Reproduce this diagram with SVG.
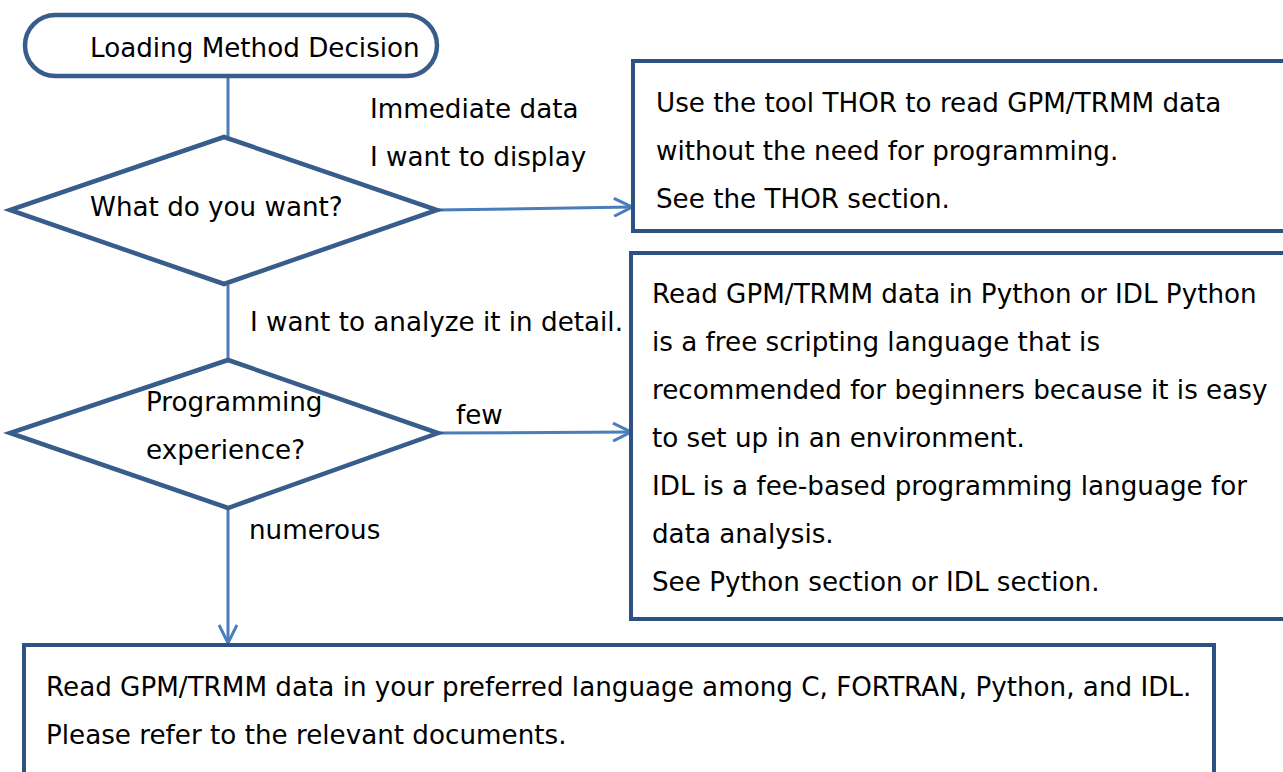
<svg xmlns="http://www.w3.org/2000/svg" width="1283" height="772" viewBox="0 0 1283 772">
<style>
.shape{fill:#fff;stroke:#385D8A;stroke-width:4.5}
.box{fill:#fff;stroke:#2C5182;stroke-width:4}
.conn{fill:none;stroke:#4A7EBB;stroke-width:3}
text{font-family:"DejaVu Sans","Liberation Sans",sans-serif;font-size:26.2px;fill:#000}
</style>
<defs>
<marker id="arr" viewBox="0 0 20 20" refX="19" refY="10" markerWidth="20" markerHeight="20" markerUnits="userSpaceOnUse" orient="auto">
<path d="M1,1 L19,10 L1,19" fill="none" stroke="#4A7EBB" stroke-width="3"/>
</marker>
</defs>
<g id="connectors">
<line class="conn" x1="228" y1="77" x2="228" y2="137"/>
<line class="conn" x1="228" y1="285" x2="228" y2="359"/>
<line class="conn" x1="228" y1="508" x2="228" y2="643" marker-end="url(#arr)"/>
<line class="conn" x1="437" y1="210" x2="632" y2="207" marker-end="url(#arr)"/>
<line class="conn" x1="438" y1="433" x2="631" y2="432" marker-end="url(#arr)"/>
<text x="370" y="118">Immediate data</text>
<text x="370" y="166">I want to display</text>
<text x="250" y="331">I want to analyze it in detail.</text>
<text x="456" y="424">few</text>
<text x="249" y="539">numerous</text>
</g>
<g id="start">
<rect class="shape" x="25" y="15" width="412" height="61" rx="30.5" ry="30.5"/>
<text x="90" y="57">Loading Method Decision</text>
</g>
<g id="decision1">
<polygon class="shape" points="224,137 437,210 224,284 10,210"/>
<text x="90" y="216">What do you want?</text>
</g>
<g id="decision2">
<polygon class="shape" points="228,360 438,433 228,508 10,433"/>
<text x="146" y="411">Programming</text>
<text x="146" y="459">experience?</text>
</g>
<g id="thor">
<rect class="box" x="633" y="61" width="660" height="170"/>
<text x="656" y="112">Use the tool THOR to read GPM/TRMM data</text>
<text x="656" y="160">without the need for programming.</text>
<text x="656" y="208">See the THOR section.</text>
</g>
<g id="python-idl">
<rect class="box" x="631" y="253" width="660" height="366"/>
<text x="652" y="303">Read GPM/TRMM data in Python or IDL Python</text>
<text x="652" y="351">is a free scripting language that is</text>
<text x="652" y="399">recommended for beginners because it is easy</text>
<text x="652" y="447">to set up in an environment.</text>
<text x="652" y="495">IDL is a fee-based programming language for</text>
<text x="652" y="543">data analysis.</text>
<text x="652" y="591">See Python section or IDL section.</text>
</g>
<g id="preferred">
<rect class="box" x="24" y="645" width="1190" height="140"/>
<text x="46" y="696">Read GPM/TRMM data in your preferred language among C, FORTRAN, Python, and IDL.</text>
<text x="46" y="744">Please refer to the relevant documents.</text>
</g>
</svg>
